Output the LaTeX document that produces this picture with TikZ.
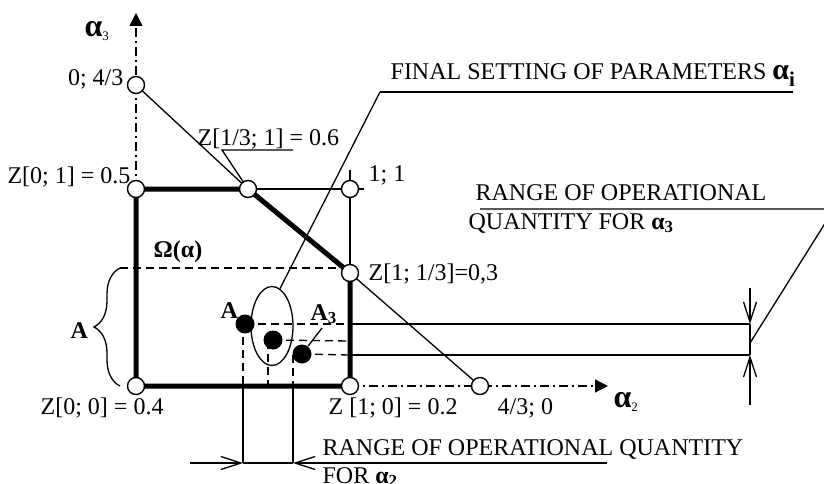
\documentclass[tikz,border=0pt]{standalone}
\usepackage{fontspec}
\setmainfont{Liberation Serif}
\usetikzlibrary{arrows.meta,shapes.geometric,decorations.pathreplacing}

\tikzset{
  dimtip/.tip={Straight Barb[length=20pt,width=13pt,line width=1.3pt]},
  opencirc/.style={circle,draw,fill=white,inner sep=0pt,minimum size=17pt,line width=1.4pt},
  fulldot/.style={circle,fill=black,inner sep=0pt,minimum size=19pt},
  thickline/.style={line width=5pt,line join=round},
  axisline/.style={dash pattern=on 9pt off 4pt on 2pt off 4pt,-{Triangle[length=13pt,width=13pt]}},
  hidden/.style={dash pattern=on 8pt off 5pt},
  lbl/.style={inner sep=0pt},
  boldlbl/.style={inner sep=0pt,font=\fontsize{24}{28}\selectfont\bfseries},
  biglbl/.style={inner sep=0pt,font=\fontsize{32}{32}\selectfont\bfseries}
}

\begin{document}
\begin{tikzpicture}[x=1pt,y=-1pt,line width=1.3pt,font=\fontsize{24}{28}\selectfont]
\clip (0,0) rectangle (824,484);

% corner points of the region
\coordinate (p00) at (136,386);
\coordinate (p01) at (136,189);
\coordinate (p043) at (136,85);
\coordinate (p131) at (248,189);
\coordinate (p11) at (350,189);
\coordinate (p113) at (350,273);
\coordinate (p10) at (350,386);
\coordinate (p430) at (480,386);
\coordinate (ytip) at (136,13);
\coordinate (xtip) at (608,386);
\coordinate (p11up) at (350,170);
\coordinate (p11rt) at (364,189);

% axes
\draw[axisline] (p01) -- (ytip);
\draw[axisline] (p10) -- (xtip);

% constraint line and thin edges
\draw (p043) -- (p131);
\draw (p113) -- (p430);
\draw (p131) -- (p11rt);
\draw (p11up) -- (p113);
\draw[thickline] (p10) -- (p00) -- (p01) -- (p131) -- (p113) -- (p10);

% level of A and brace
\coordinate (atop) at (120,268);
\coordinate (aend) at (344,268);
\draw[hidden] (atop) -- (aend);
\draw[decorate,decoration={brace,amplitude=26pt}] (120,386) -- (atop);
\node[boldlbl,anchor=base west] (labA) at (70,338) {A};

% tolerance region
\node[draw,ellipse,minimum width=42pt,minimum height=79pt,inner sep=0pt] (ell) at (272,326) {};
\node[fulldot] (dA) at (245,324) {};
\node[fulldot] (dM) at (273,340) {};
\node[fulldot] (d3) at (302,354) {};
\node[boldlbl,anchor=base west] (labdA) at (220,318) {A};
\node[boldlbl,anchor=base west] (labd3) at (310,320) {A\textsubscript{3}};
\coordinate (l3) at (322,328);
\draw (l3) -- (d3);

% projections of the points
\coordinate (eA) at (350,324);
\coordinate (eM) at (350,341);
\coordinate (e3) at (350,355);
\draw[hidden] (dA.center) -- (eA);
\draw[hidden] (dM.center) -- (eM);
\draw[hidden] (d3.center) -- (e3);
\coordinate (vA) at (243,324);
\coordinate (vM) at (268,341);
\coordinate (v3) at (293,355);
\coordinate (bA) at (243,386);
\coordinate (bM) at (268,386);
\coordinate (b3) at (293,386);
\draw[hidden] (vA) -- (bA);
\draw[hidden] (vM) -- (bM);
\draw[hidden] (v3) -- (b3);

% range for alpha 3
\coordinate (fA) at (750,324);
\coordinate (f3) at (750,355);
\coordinate (fup) at (750,288);
\coordinate (fdn) at (750,405);
\coordinate (fmid) at (750,343);
\coordinate (rr) at (834,209);
\coordinate (rl) at (480,209);
\draw (eA) -- (fA);
\draw (e3) -- (f3);
\draw[-dimtip] (fup) -- (fA);
\draw (fA) -- (f3);
\draw[-dimtip] (fdn) -- (f3);
\draw (fmid) -- (rr) -- (rl);
\node[lbl,anchor=base west] (rng3a) at (475,200) {RANGE OF OPERATIONAL};
\node[lbl,anchor=base west] (rng3b) at (468,229) {QUANTITY FOR {\bfseries α\textsubscript{3}}};

% range for alpha 2
\coordinate (gA) at (243,463);
\coordinate (g3) at (293,463);
\coordinate (gl) at (190,463);
\coordinate (gr) at (607,463);
\draw (bA) -- (gA);
\draw (b3) -- (g3);
\draw[-dimtip] (gl) -- (gA);
\draw (gA) -- (g3);
\draw[dimtip-] (g3) -- (gr);
\node[lbl,anchor=base west] (rng2a) at (322,455) {RANGE OF OPERATIONAL QUANTITY};
\node[lbl,anchor=base west] (rng2b) at (322,483) {FOR {\bfseries α\textsubscript{2}}};

% final setting
\coordinate (fsl) at (380,92);
\coordinate (fsr) at (793,92);
\draw (fsl) -- (fsr);
\draw (fsl) -- (ell.78);
\node[lbl,anchor=base west] (fset) at (390,80) {FINAL SETTING OF PARAMETERS {\fontsize{30}{30}\selectfont\bfseries α\textsubscript{i}}};

% label of Z[1/3;1]
\coordinate (zl) at (222,150);
\coordinate (zr) at (293,150);
\draw (zr) -- (zl) -- (p131);
\node[lbl,anchor=base west] (lz131) at (197,146) {Z[1/3; 1] = 0.6};

% open circles
\node[opencirc] (c00) at (p00) {};
\node[opencirc] (c01) at (p01) {};
\node[opencirc] (c043) at (p043) {};
\node[opencirc] (c131) at (p131) {};
\node[opencirc] (c11) at (p11) {};
\node[opencirc] (c113) at (p113) {};
\node[opencirc] (c10) at (p10) {};
\node[opencirc] (c430) at (p430) {};

% point labels
\node[lbl,anchor=base east] (l043) at (124,86) {0; 4/3};
\node[lbl,anchor=base east] (l01) at (131,183) {Z[0; 1] = 0.5};
\node[lbl,anchor=base west] (l11) at (368,181) {1; 1};
\node[lbl,anchor=base west] (l113) at (368,280) {Z[1; 1/3]=0,3};
\node[lbl,anchor=base west] (l00) at (40,414) {Z[0; 0] = 0.4};
\node[lbl,anchor=base west] (l10) at (328,414) {Z [1; 0] = 0.2};
\node[lbl,anchor=base west] (l430) at (497,414) {4/3; 0};
\node[boldlbl,anchor=base west] (lom) at (153,257) {Ω(α)};
\node[biglbl] (ax3) at (97,31) {α\textsubscript{\fontsize{13}{13}\selectfont\mdseries 3}};
\node[biglbl] (ax2) at (626,402) {α\textsubscript{\fontsize{13}{13}\selectfont\mdseries 2}};
\end{tikzpicture}
\end{document}
